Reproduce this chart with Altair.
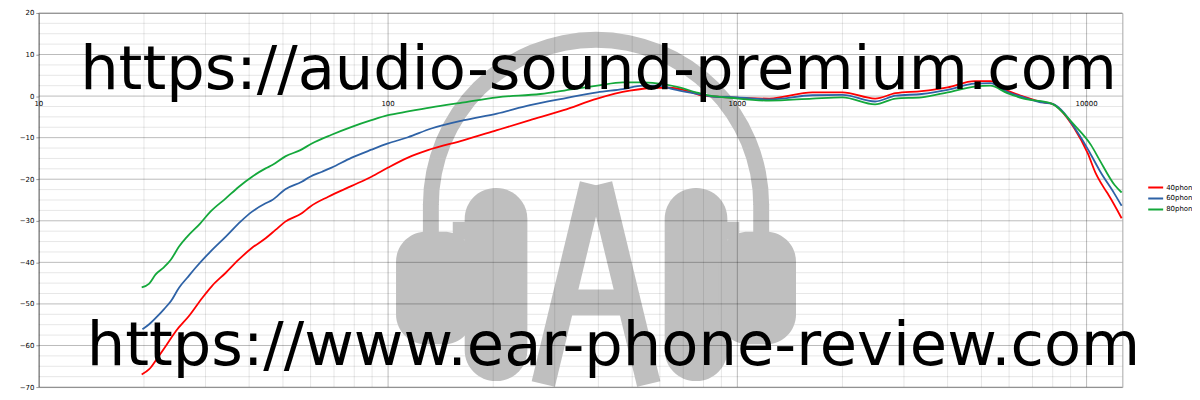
import altair as alt
import pandas as pd

# ---------------- data ----------------
series_names = ["40phon", "60phon", "80phon"]
series_colors = ["#ff0000", "#2e62a6", "#14a83b"]

freq_40 = [19.7, 20.7, 21.9, 23.1, 24.7, 26.9, 29.4, 31.3, 34.3, 37.4,
           40.8, 44.6, 47.6, 50.8, 56.6, 59.8, 67.4, 78.7, 89.6, 100,
           114, 130, 165, 205, 255, 318, 397, 492, 585, 640,
           713, 798, 952, 1234, 1640, 2000, 2480, 2840, 3370, 4000,
           4780, 5300, 5930, 6600, 7530, 7940, 9230, 10080, 10600, 11240,
           11560, 12600]
spl_40 = [-67.0, -65.7, -62.9, -60.1, -56.5, -52.9, -48.5, -45.7, -42.5, -39.3,
          -36.5, -34.2, -32.2, -30.2, -28.2, -26.6, -24.2, -21.6, -19.4, -17.2,
          -14.8, -13.0, -10.6, -8.2, -5.8, -3.4, -0.6, 1.3, 2.0, 2.0,
          1.3, 0.1, -0.3, -0.6, 0.9, 0.9, -0.6, 0.7, 1.2, 2.1,
          3.6, 3.6, 1.3, -0.1, -1.5, -1.8, -7.8, -13.8, -18.4, -22.2,
          -23.8, -29.4]

freq_60 = [19.8, 20.7, 21.9, 22.8, 23.9, 25.2, 26.6, 28.1, 31.0, 34.3,
           37.8, 40.8, 44.6, 46.6, 50.8, 56.6, 59.8, 64.7, 68.9, 78.7,
           89.6, 100, 114, 133, 165, 205, 255, 318, 397, 470,
           537, 598, 653, 762, 849, 1000, 1234, 1640, 2000, 2480,
           2840, 3370, 4000, 4780, 5300, 5930, 6600, 7530, 7940, 9540,
           10200, 10950, 12000, 12600]
spl_60 = [-56.1, -54.9, -52.9, -51.3, -49.3, -46.1, -43.7, -41.3, -37.4, -33.8,
          -30.2, -27.8, -25.8, -25.0, -22.4, -20.6, -19.4, -18.2, -17.2, -14.8,
          -12.9, -11.4, -9.9, -7.8, -5.8, -4.2, -2.2, -0.6, 0.9, 1.7,
          2.5, 2.5, 1.7, 0.6, -0.1, -0.3, -0.8, 0.2, 0.3, -1.3,
          0.1, 0.5, 1.5, 3.0, 3.1, 1.0, -0.3, -1.6, -1.8, -9.4,
          -13.5, -18.2, -23.4, -26.4]

freq_80 = [19.7, 20.7, 21.6, 22.8, 23.9, 25.2, 26.6, 29.0, 31.0, 34.3,
           37.4, 40.8, 44.6, 46.6, 50.8, 56.1, 60.5, 68.9, 78.7, 89.6,
           100, 114, 133, 165, 205, 273, 339, 397, 470, 537,
           613, 682, 762, 834, 952, 1234, 1640, 2000, 2480, 2840,
           3370, 4000, 4780, 5300, 5930, 6600, 7940, 9230, 10300, 10900,
           12030, 12600]
spl_80 = [-46.0, -45.1, -42.9, -41.2, -39.3, -36.2, -33.8, -30.6, -27.8, -24.6,
          -21.8, -19.4, -17.4, -16.6, -14.5, -13.0, -11.4, -9.3, -7.4, -5.8,
          -4.6, -3.7, -2.7, -1.5, -0.3, 0.5, 1.7, 2.5, 3.3, 3.3,
          2.9, 2.1, 0.9, 0.1, -0.4, -1.1, -0.6, -0.3, -2.0, -0.6,
          -0.3, 0.9, 2.3, 2.5, 0.7, -0.6, -1.8, -7.0, -11.8, -15.4,
          -21.4, -23.2]

x_major = [10, 100, 1000, 10000]
x_tick_labels = ["10", "100", "1000", "10000"]
x_minor = [20, 30, 40, 50, 60, 70, 80, 90,
           200, 300, 400, 500, 600, 700, 800, 900,
           2000, 3000, 4000, 5000, 6000, 7000, 8000, 9000]
y_major = [-70, -60, -50, -40, -30, -20, -10, 0, 10, 20]
y_minor = [-67.5, -65, -62.5, -57.5, -55, -52.5, -47.5, -45, -42.5,
           -37.5, -35, -32.5, -27.5, -25, -22.5, -17.5, -15, -12.5,
           -7.5, -5, -2.5, 2.5, 5, 7.5, 12.5, 15, 17.5]

watermark_top = "https://audio-sound-premium.com"
watermark_bottom = "https://www.ear-phone-review.com"

# ---------------- tables ----------------
rows = []
for name, fs, vs in [("40phon", freq_40, spl_40), ("60phon", freq_60, spl_60), ("80phon", freq_80, spl_80)]:
    for i, (f, v) in enumerate(zip(fs, vs)):
        rows.append({"f": f, "spl": v, "series": name, "i": i})
curves = pd.DataFrame(rows)

W, H = 1089, 376
OX, OY = 39, 12  # page position of the plot origin
xs = alt.Scale(type="log", domain=[10, 12660], nice=False)
ys = alt.Scale(domain=[-70, 20], nice=False, zero=False)
y_axis = alt.Axis(values=y_major, grid=False, title=None, labelFontSize=7,
                  labelFont="DejaVu Sans", labelColor="black", tickSize=3,
                  tickColor="#9a9a9a", domainColor="#9a9a9a", labelPadding=2)
dummy = pd.DataFrame({"d": [0]})
GRAY = "#bfbfbf"


def prect(x1, x2, y1, y2, r=0):
    return alt.Chart(dummy).mark_rect(color=GRAY, cornerRadius=r).encode(
        x=alt.value(x1 - OX), x2=alt.value(x2 - OX),
        y=alt.value(y1 - OY), y2=alt.value(y2 - OY))


def prule(x1, y1, x2, y2, w):
    return alt.Chart(dummy).mark_rule(color=GRAY, strokeWidth=w, strokeCap="butt").encode(
        x=alt.value(x1 - OX), x2=alt.value(x2 - OX),
        y=alt.value(y1 - OY), y2=alt.value(y2 - OY))


# ---------------- logo (watermark) ----------------
band = alt.Chart(dummy).mark_arc(color=GRAY, theta=4.7124, theta2=7.8540,
                                 innerRadius=158, outerRadius=174).encode(
    x=alt.value(599 - OX), y=alt.value(205 - OY))
logo = [
    band,
    prect(425, 441, 204, 234),
    prect(757, 773, 204, 234),
    prect(398, 476, 232, 345, 30),
    prect(455, 472, 222, 240),
    prect(467, 530, 188, 382, 31),
    prect(668, 731, 188, 382, 31),
    prect(726, 743, 222, 240),
    prect(722, 800, 232, 345, 30),
    prule(594.5, 184, 546, 385, 24),
    prule(603.5, 184, 652, 385, 24),
    prect(565, 635, 290, 316),
]

# ---------------- grid ----------------
gy_minor = alt.Chart(pd.DataFrame({"v": y_minor})).mark_rule(color="black", opacity=0.1, strokeWidth=1).encode(
    y=alt.Y("v:Q", scale=ys, axis=y_axis))
gy_major = alt.Chart(pd.DataFrame({"v": y_major})).mark_rule(color="black", opacity=0.27, strokeWidth=1).encode(
    y=alt.Y("v:Q", scale=ys, axis=y_axis))
gx_minor = alt.Chart(pd.DataFrame({"f": x_minor})).mark_rule(color="black", opacity=0.1, strokeWidth=1).encode(
    x=alt.X("f:Q", scale=xs, axis=None))
gx_major = alt.Chart(pd.DataFrame({"f": x_major})).mark_rule(color="black", opacity=0.27, strokeWidth=1).encode(
    x=alt.X("f:Q", scale=xs, axis=None))

# ---------------- curves ----------------
lines = alt.Chart(curves).mark_line(strokeWidth=1.8, interpolate="monotone").encode(
    x=alt.X("f:Q", scale=xs, axis=None),
    y=alt.Y("spl:Q", scale=ys, axis=y_axis),
    color=alt.Color("series:N",
                    scale=alt.Scale(domain=series_names, range=series_colors),
                    legend=alt.Legend(title=None)),
    order="i:Q",
)

xlabels = alt.Chart(pd.DataFrame({"f": x_major, "lab": x_tick_labels, "y0": [0] * 4})).mark_text(
    fontSize=7, font="DejaVu Sans", color="black", baseline="middle", dy=8).encode(
    x=alt.X("f:Q", scale=xs, axis=None),
    y=alt.Y("y0:Q", scale=ys, axis=y_axis),
    text="lab:N")

wm1 = alt.Chart(dummy).mark_text(text=watermark_top, fontSize=61, font="DejaVu Sans",
                                 color="black", align="center", baseline="alphabetic").encode(
    x=alt.value(601.5 - OX), y=alt.value(88 - OY))
wm2 = alt.Chart(dummy).mark_text(text=watermark_bottom, fontSize=61, font="DejaVu Sans",
                                 color="black", align="center", baseline="alphabetic").encode(
    x=alt.value(616.5 - OX), y=alt.value(366 - OY))

chart = alt.layer(gy_minor, *logo, gx_minor, gx_major, gy_major, lines, xlabels, wm1, wm2).properties(
    width=W, height=H,
    padding={"left": 31, "top": 4, "right": 70, "bottom": 4},
    autosize=alt.AutoSizeParams(type="none"),
).configure_view(stroke="#a6a6a6").configure_legend(
    orient="none", legendX=1153 - OX, legendY=182 - OY, symbolType="stroke", symbolSize=225,
    symbolStrokeWidth=2, labelFontSize=7, labelFont="DejaVu Sans", labelColor="black",
    clipHeight=11, rowPadding=0, padding=0, labelOffset=2,
)

chart.save("out.html", embed_options={"renderer": "svg", "actions": False})
